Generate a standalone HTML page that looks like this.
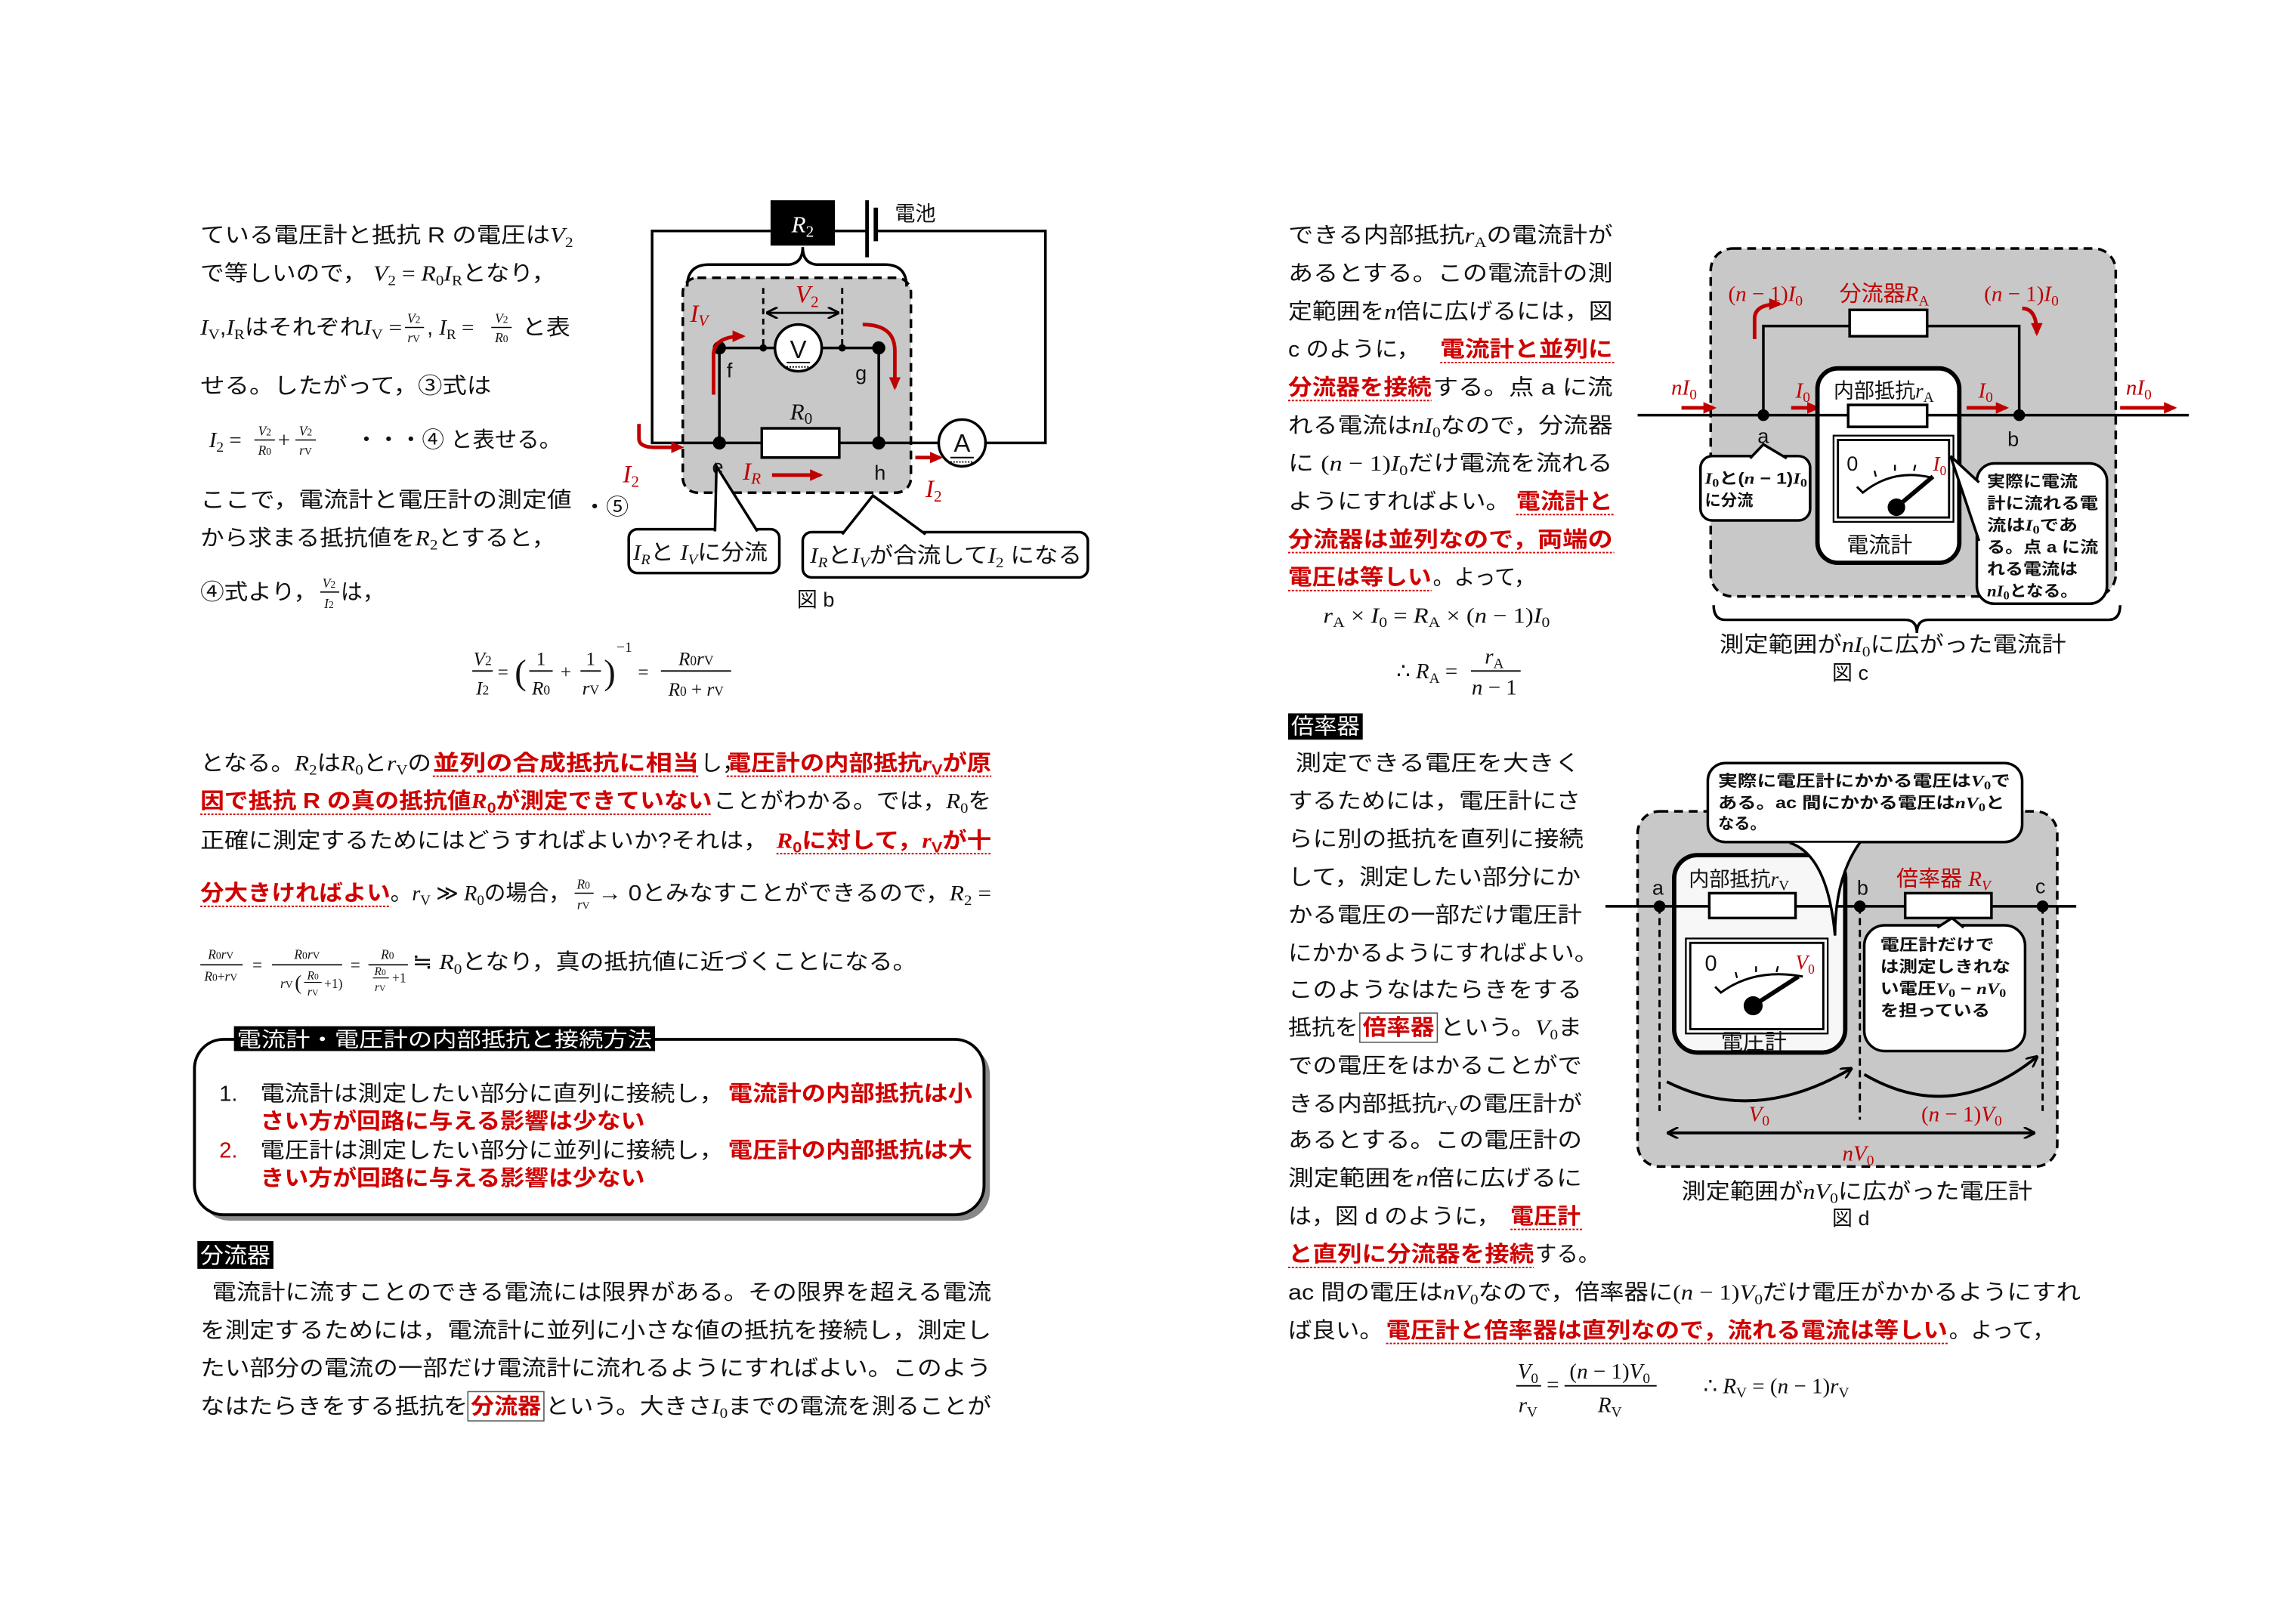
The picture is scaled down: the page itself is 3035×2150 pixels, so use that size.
<!DOCTYPE html>
<html><head><meta charset="utf-8">
<style>
html,body{margin:0;padding:0;background:#fff;}
svg{display:block;}
.t{font-family:"Liberation Sans","Noto Sans CJK JP",sans-serif;font-size:15px;fill:#111;}
.m{font-family:"Liberation Serif","DejaVu Serif",serif;font-style:italic;}
.n{font-family:"Liberation Serif","DejaVu Serif",serif;font-style:normal;}
.r{fill:#d00000;font-weight:bold;}
.rd{fill:#c00000;}
.b{font-weight:bold;}
.w{fill:#fff;}
.ul{stroke:#d00000;stroke-width:1;stroke-dasharray:1.5 1;}
</style></head>
<body>
<svg width="3035" height="2150" viewBox="0 0 3035 2150" xmlns="http://www.w3.org/2000/svg">
<defs>
<marker id="ar" markerWidth="9" markerHeight="9" refX="7" refY="4.5" orient="auto" markerUnits="userSpaceOnUse"><path d="M0,0.5 L9,4.5 L0,8.5 Z" fill="#c00000"/></marker>
<marker id="ak" markerWidth="8" markerHeight="8" refX="7" refY="4" orient="auto" markerUnits="userSpaceOnUse"><path d="M0,0 L8,4 L0,8" fill="none" stroke="#000" stroke-width="1.5"/></marker>
<marker id="aks" markerWidth="8" markerHeight="8" refX="1" refY="4" orient="auto" markerUnits="userSpaceOnUse"><path d="M8,0 L0,4 L8,8" fill="none" stroke="#000" stroke-width="1.5"/></marker>
</defs>
<rect width="3035" height="2150" fill="#fff"/>
<g transform="scale(1.9353)" class="t">

<!-- ===== LEFT COLUMN TOP TEXT ===== -->
<text x="137" y="166" textLength="255" lengthAdjust="spacingAndGlyphs">ている電圧計と抵抗 R の電圧は<tspan class="m">V</tspan><tspan font-size="10" dy="3" class="n">2</tspan></text>
<text x="137" y="192" textLength="243" lengthAdjust="spacingAndGlyphs">で等しいので， <tspan class="m">V</tspan><tspan font-size="10" dy="3" class="n">2</tspan><tspan dy="-3" class="n"> = </tspan><tspan class="m">R</tspan><tspan font-size="10" dy="3" class="n">0</tspan><tspan dy="-3" class="m">I</tspan><tspan font-size="10" dy="3" class="n">R</tspan><tspan dy="-3">となり，</tspan></text>
<text x="137" y="229" textLength="138" lengthAdjust="spacingAndGlyphs"><tspan class="m">I</tspan><tspan font-size="10" dy="3" class="n">V</tspan><tspan dy="-3">,</tspan><tspan class="m">I</tspan><tspan font-size="10" dy="3" class="n">R</tspan><tspan dy="-3">はそれぞれ</tspan><tspan class="m">I</tspan><tspan font-size="10" dy="3" class="n">V</tspan><tspan dy="-3" class="n"> =</tspan></text>
<g font-size="9" text-anchor="middle" class="m"><text x="283" y="221">V<tspan font-size="7" class="n">2</tspan></text><line x1="277" y1="224" x2="290" y2="224" stroke="#000" stroke-width="0.8"/><text x="283" y="234">r<tspan font-size="7" class="n">V</tspan></text></g>
<text x="292" y="229">, <tspan class="m">I</tspan><tspan font-size="10" dy="3" class="n">R</tspan><tspan dy="-3" class="n"> =</tspan></text>
<g font-size="9" text-anchor="middle" class="m"><text x="343" y="221">V<tspan font-size="7" class="n">2</tspan></text><line x1="336" y1="224" x2="350" y2="224" stroke="#000" stroke-width="0.8"/><text x="343" y="234">R<tspan font-size="7" class="n">0</tspan></text></g>
<text x="357" y="229" textLength="33" lengthAdjust="spacingAndGlyphs">と表</text>
<text x="137" y="269" textLength="199" lengthAdjust="spacingAndGlyphs">せる。したがって，③式は</text>
<text x="143" y="306"><tspan class="m">I</tspan><tspan font-size="10" dy="3" class="n">2</tspan><tspan dy="-3" class="n"> =</tspan></text>
<g font-size="9" text-anchor="middle" class="m"><text x="181" y="298">V<tspan font-size="7" class="n">2</tspan></text><line x1="174" y1="301" x2="188" y2="301" stroke="#000" stroke-width="0.8"/><text x="181" y="311">R<tspan font-size="7" class="n">0</tspan></text></g>
<text x="190" y="306" class="n">+</text>
<g font-size="9" text-anchor="middle" class="m"><text x="209" y="298">V<tspan font-size="7" class="n">2</tspan></text><line x1="202" y1="301" x2="216" y2="301" stroke="#000" stroke-width="0.8"/><text x="209" y="311">r<tspan font-size="7" class="n">V</tspan></text></g>
<text x="243" y="306" textLength="141" lengthAdjust="spacingAndGlyphs">・・・④ と表せる。</text>
<text x="137" y="347" textLength="254" lengthAdjust="spacingAndGlyphs">ここで，電流計と電圧計の測定値</text>
<text x="399" y="352" textLength="31" lengthAdjust="spacingAndGlyphs">・⑤</text>
<text x="137" y="373" textLength="243" lengthAdjust="spacingAndGlyphs">から求まる抵抗値を<tspan class="m">R</tspan><tspan font-size="10" dy="3" class="n">2</tspan><tspan dy="-3">とすると，</tspan></text>
<text x="137" y="410" textLength="80" lengthAdjust="spacingAndGlyphs">④式より，</text>
<g font-size="9" text-anchor="middle" class="m"><text x="225" y="402">V<tspan font-size="7" class="n">2</tspan></text><line x1="219" y1="405" x2="232" y2="405" stroke="#000" stroke-width="0.8"/><text x="225" y="416">I<tspan font-size="7" class="n">2</tspan></text></g>
<text x="233" y="410">は，</text>

<!-- big equation -->
<g class="m" font-size="13" text-anchor="middle">
<text x="330" y="455">V<tspan font-size="9" class="n">2</tspan></text><line x1="323" y1="459" x2="337" y2="459" stroke="#000"/><text x="330" y="475">I<tspan font-size="9" class="n">2</tspan></text>
<text x="344" y="464" class="n">=</text>
<text x="356" y="468" class="n" font-size="24" font-weight="lighter">(</text>
<text x="370" y="455" class="n">1</text><line x1="362" y1="459" x2="378" y2="459" stroke="#000"/><text x="370" y="475">R<tspan font-size="9" class="n">0</tspan></text>
<text x="387" y="464" class="n">+</text>
<text x="404" y="455" class="n">1</text><line x1="397" y1="459" x2="411" y2="459" stroke="#000"/><text x="404" y="475">r<tspan font-size="9" class="n">V</tspan></text>
<text x="417" y="468" class="n" font-size="24">)</text>
<text x="427" y="446" class="n" font-size="10">−1</text>
<text x="440" y="464" class="n">=</text>
<text x="476" y="455">R<tspan font-size="9" class="n">0</tspan>r<tspan font-size="9" class="n">V</tspan></text><line x1="452" y1="459" x2="500" y2="459" stroke="#000"/><text x="476" y="476">R<tspan font-size="9" class="n">0</tspan><tspan class="n"> + </tspan>r<tspan font-size="9" class="n">V</tspan></text>
</g>

<!-- paragraph 2 -->
<text x="137" y="527" textLength="158" lengthAdjust="spacingAndGlyphs">となる。<tspan class="m">R</tspan><tspan font-size="10" dy="3" class="n">2</tspan><tspan dy="-3">は</tspan><tspan class="m">R</tspan><tspan font-size="10" dy="3" class="n">0</tspan><tspan dy="-3">と</tspan><tspan class="m">r</tspan><tspan font-size="10" dy="3" class="n">V</tspan><tspan dy="-3">の</tspan></text>
<text x="296" y="527" class="r" textLength="182" lengthAdjust="spacingAndGlyphs">並列の合成抵抗に相当</text>
<line x1="296" y1="531" x2="478" y2="531" class="ul"/>
<text x="479" y="527">し，</text>
<text x="497" y="527" class="r" textLength="181" lengthAdjust="spacingAndGlyphs">電圧計の内部抵抗<tspan class="m">r</tspan><tspan font-size="10" dy="3">V</tspan><tspan dy="-3">が原</tspan></text>
<line x1="497" y1="531" x2="678" y2="531" class="ul"/>
<text x="137" y="553" class="r" textLength="350" lengthAdjust="spacingAndGlyphs">因で抵抗 R の真の抵抗値<tspan class="m">R</tspan><tspan font-size="10" dy="3">0</tspan><tspan dy="-3">が測定できていない</tspan></text>
<line x1="137" y1="557" x2="487" y2="557" class="ul"/>
<text x="488" y="553" textLength="190" lengthAdjust="spacingAndGlyphs">ことがわかる。では，<tspan class="m">R</tspan><tspan font-size="10" dy="3" class="n">0</tspan><tspan dy="-3">を</tspan></text>
<text x="137" y="580" textLength="388" lengthAdjust="spacingAndGlyphs">正確に測定するためにはどうすればよいか?それは，</text>
<text x="531" y="580" class="r" textLength="147" lengthAdjust="spacingAndGlyphs"><tspan class="m">R</tspan><tspan font-size="10" dy="3">0</tspan><tspan dy="-3">に対して，</tspan><tspan class="m">r</tspan><tspan font-size="10" dy="3">V</tspan><tspan dy="-3">が十</tspan></text>
<line x1="531" y1="584" x2="678" y2="584" class="ul"/>
<text x="137" y="616" class="r" textLength="130" lengthAdjust="spacingAndGlyphs">分大きければよい</text>
<line x1="137" y1="620" x2="267" y2="620" class="ul"/>
<text x="267" y="616" textLength="123" lengthAdjust="spacingAndGlyphs">。<tspan class="m">r</tspan><tspan font-size="10" dy="3" class="n">V</tspan><tspan dy="-3" class="n"> ≫ </tspan><tspan class="m">R</tspan><tspan font-size="10" dy="3" class="n">0</tspan><tspan dy="-3">の場合，</tspan></text>
<g font-size="9" text-anchor="middle" class="m"><text x="399" y="608">R<tspan font-size="7" class="n">0</tspan></text><line x1="393" y1="611" x2="406" y2="611" stroke="#000" stroke-width="0.8"/><text x="399" y="622">r<tspan font-size="7" class="n">V</tspan></text></g>
<text x="409" y="616" textLength="269" lengthAdjust="spacingAndGlyphs">→ 0とみなすことができるので，<tspan class="m">R</tspan><tspan font-size="10" dy="3" class="n">2</tspan><tspan dy="-3" class="n"> =</tspan></text>
<!-- P5 fractions -->
<g font-size="9" text-anchor="middle" class="m">
<text x="151" y="656">R<tspan font-size="7" class="n">0</tspan>r<tspan font-size="7" class="n">V</tspan></text><line x1="137" y1="660" x2="166" y2="660" stroke="#000" stroke-width="0.8"/><text x="151" y="671">R<tspan font-size="7" class="n">0</tspan><tspan class="n">+</tspan>r<tspan font-size="7" class="n">V</tspan></text>
<text x="176" y="664" class="n" font-size="12">=</text>
<text x="210" y="656">R<tspan font-size="7" class="n">0</tspan>r<tspan font-size="7" class="n">V</tspan></text><line x1="186" y1="660" x2="234" y2="660" stroke="#000" stroke-width="0.8"/>
<text x="196" y="676">r<tspan font-size="7" class="n">V</tspan></text><text x="204" y="677" class="n" font-size="14">(</text>
<text x="214" y="670" font-size="8">R<tspan font-size="6" class="n">0</tspan></text><line x1="208" y1="672" x2="220" y2="672" stroke="#000" stroke-width="0.6"/><text x="214" y="681" font-size="8">r<tspan font-size="6" class="n">V</tspan></text><text x="228" y="676" class="n">+1)</text>
<text x="243" y="664" class="n" font-size="12">=</text>
<text x="265" y="656">R<tspan font-size="7" class="n">0</tspan></text><line x1="252" y1="660" x2="279" y2="660" stroke="#000" stroke-width="0.8"/>
<text x="260" y="667" font-size="8">R<tspan font-size="6" class="n">0</tspan></text><line x1="255" y1="669" x2="266" y2="669" stroke="#000" stroke-width="0.6"/><text x="260" y="678" font-size="8">r<tspan font-size="6" class="n">V</tspan></text><text x="273" y="672" class="n">+1</text>
</g>
<text x="282" y="663" textLength="345" lengthAdjust="spacingAndGlyphs">≒ <tspan class="m">R</tspan><tspan font-size="10" dy="3" class="n">0</tspan><tspan dy="-3">となり，真の抵抗値に近づくことになる。</tspan></text>

<!-- Summary box -->
<rect x="137" y="715" width="540" height="120" rx="20" fill="#888"/>
<rect x="133" y="711" width="540" height="120" rx="20" fill="#fff" stroke="#000" stroke-width="2"/>
<rect x="160" y="702" width="288" height="17" fill="#000"/>
<text x="162" y="716" class="w" font-size="14" textLength="284" lengthAdjust="spacingAndGlyphs">電流計・電圧計の内部抵抗と接続方法</text>
<text x="150" y="753">1.</text>
<text x="178" y="753" textLength="317" lengthAdjust="spacingAndGlyphs">電流計は測定したい部分に直列に接続し，</text>
<text x="498" y="753" class="r" textLength="167" lengthAdjust="spacingAndGlyphs">電流計の内部抵抗は小</text>
<text x="178" y="772" class="r" textLength="263" lengthAdjust="spacingAndGlyphs">さい方が回路に与える影響は少ない</text>
<text x="150" y="792" class="rd">2.</text>
<text x="178" y="792" textLength="317" lengthAdjust="spacingAndGlyphs">電圧計は測定したい部分に並列に接続し，</text>
<text x="498" y="792" class="r" textLength="167" lengthAdjust="spacingAndGlyphs">電圧計の内部抵抗は大</text>
<text x="178" y="811" class="r" textLength="263" lengthAdjust="spacingAndGlyphs">きい方が回路に与える影響は少ない</text>

<!-- 分流器 -->
<rect x="135" y="849" width="52" height="19" fill="#000"/>
<text x="137" y="864" class="w" textLength="48" lengthAdjust="spacingAndGlyphs">分流器</text>
<text x="145" y="889" textLength="533" lengthAdjust="spacingAndGlyphs">電流計に流すことのできる電流には限界がある。その限界を超える電流</text>
<text x="137" y="915" textLength="541" lengthAdjust="spacingAndGlyphs">を測定するためには，電流計に並列に小さな値の抵抗を接続し，測定し</text>
<text x="137" y="941" textLength="541" lengthAdjust="spacingAndGlyphs">たい部分の電流の一部だけ電流計に流れるようにすればよい。このよう</text>
<text x="137" y="967" textLength="183" lengthAdjust="spacingAndGlyphs">なはたらきをする抵抗を</text>
<rect x="320" y="952" width="52" height="20" fill="none" stroke="#555" stroke-width="0.8"/>
<text x="322" y="967" class="r" textLength="48" lengthAdjust="spacingAndGlyphs">分流器</text>
<text x="373" y="967" textLength="305" lengthAdjust="spacingAndGlyphs">という。大きさ<tspan class="m">I</tspan><tspan font-size="10" dy="3" class="n">0</tspan><tspan dy="-3">までの電流を測ることが</tspan></text>

<!-- ===== FIGURE b ===== -->
<rect x="467" y="190" width="156" height="147" rx="10" fill="#c8c8c8" stroke="#000" stroke-width="1.8" stroke-dasharray="6 4"/>
<g stroke="#000" stroke-width="1.8" fill="none">
<polyline points="527,158 446,158 446,303 521,303"/>
<line x1="571" y1="158" x2="593" y2="158"/>
<polyline points="599,158 715,158 715,303 674,303"/>
<line x1="574" y1="303" x2="642" y2="303"/>
<line x1="492" y1="238" x2="492" y2="303"/>
<line x1="601" y1="238" x2="601" y2="303"/>
<line x1="492" y1="238" x2="530" y2="238"/>
<line x1="562" y1="238" x2="601" y2="238"/>
<line x1="593" y1="137" x2="593" y2="176" stroke-width="2.5"/>
<line x1="599" y1="142" x2="599" y2="165" stroke-width="3"/>
<line x1="522" y1="197" x2="522" y2="238" stroke-dasharray="4 3" stroke-width="1.5"/>
<line x1="576" y1="197" x2="576" y2="238" stroke-dasharray="4 3" stroke-width="1.5"/>
<line x1="525" y1="214" x2="573" y2="214" stroke-width="1.5" marker-end="url(#ak)" marker-start="url(#aks)"/>
<path d="M470,196 Q470,181 485,181 L538,181 Q549,181 549,169 Q549,181 560,181 L605,181 Q620,181 620,196" stroke-width="1.8"/>
</g>
<rect x="527" y="137" width="44" height="31" fill="#000"/>
<text x="549" y="159" class="m w" font-size="16" text-anchor="middle">R<tspan font-size="11" class="n" dy="3">2</tspan></text>
<text x="612" y="151" font-size="14">電池</text>
<rect x="521" y="293" width="53" height="20" fill="#fff" stroke="#000" stroke-width="1.8"/>
<text x="548" y="287" class="m" font-size="16" text-anchor="middle">R<tspan font-size="11" class="n" dy="3">0</tspan></text>
<circle cx="546" cy="238" r="16" fill="#fff" stroke="#000" stroke-width="1.8"/>
<text x="546" y="245" font-size="17" text-anchor="middle">V</text>
<line x1="538" y1="248" x2="554" y2="248" stroke="#000" stroke-width="1"/><line x1="538" y1="251" x2="554" y2="251" stroke="#000" stroke-width="1" stroke-dasharray="1 1"/>
<circle cx="658" cy="303" r="16" fill="#fff" stroke="#000" stroke-width="1.8"/>
<text x="658" y="309" font-size="17" text-anchor="middle">A</text>
<line x1="650" y1="313" x2="666" y2="313" stroke="#000" stroke-width="1"/><line x1="650" y1="316" x2="666" y2="316" stroke="#000" stroke-width="1" stroke-dasharray="1 1"/>
<g fill="#000"><circle cx="492" cy="303" r="4.5"/><circle cx="601" cy="303" r="4.5"/><circle cx="492" cy="238" r="4.5"/><circle cx="601" cy="238" r="4.5"/><circle cx="522" cy="238" r="2.5"/><circle cx="576" cy="238" r="2.5"/></g>
<text x="497" y="258" font-size="14">f</text>
<text x="585" y="260" font-size="14">g</text>
<text x="487" y="324" font-size="14">e</text>
<text x="598" y="328" font-size="14">h</text>
<text x="552" y="207" class="m rd" font-size="17" text-anchor="middle">V<tspan font-size="11" class="n" dy="3">2</tspan></text>
<text x="472" y="220" class="m rd" font-size="17">I<tspan font-size="11" dy="3">V</tspan></text>
<text x="426" y="330" class="m rd" font-size="17">I<tspan font-size="11" class="n" dy="3">2</tspan></text>
<text x="508" y="328" class="m rd" font-size="17">I<tspan font-size="11" dy="3">R</tspan></text>
<text x="633" y="340" class="m rd" font-size="17">I<tspan font-size="11" class="n" dy="3">2</tspan></text>
<g stroke="#c00000" stroke-width="2.5" fill="none" marker-end="url(#ar)">
<path d="M488,270 L488,243 Q488,230 508,230"/>
<path d="M590,222 Q612,222 612,240 L612,265"/>
<path d="M437,290 L437,300 Q437,306 448,306 L466,306"/>
<line x1="528" y1="325" x2="561" y2="325"/>
<line x1="626" y1="313" x2="643" y2="313"/>
</g>
<!-- callouts b -->
<rect x="430" y="362" width="103" height="30" rx="6" fill="#fff" stroke="#000" stroke-width="1.8"/>
<polyline points="489,363.5 490,319 518,363.5" fill="#fff" stroke="#000" stroke-width="1.8"/>
<text x="433" y="383" textLength="92" lengthAdjust="spacingAndGlyphs"><tspan class="m">I</tspan><tspan font-size="10" dy="3" class="m">R</tspan><tspan dy="-3">と </tspan><tspan class="m">I</tspan><tspan font-size="10" dy="3" class="m">V</tspan><tspan dy="-3">に分流</tspan></text>
<rect x="549" y="364" width="195" height="31" rx="6" fill="#fff" stroke="#000" stroke-width="1.8"/>
<polyline points="576,365.5 597,339 633,365.5" fill="#fff" stroke="#000" stroke-width="1.8"/>
<text x="554" y="385" textLength="186" lengthAdjust="spacingAndGlyphs"><tspan class="m">I</tspan><tspan font-size="10" dy="3" class="m">R</tspan><tspan dy="-3">と</tspan><tspan class="m">I</tspan><tspan font-size="10" dy="3" class="m">V</tspan><tspan dy="-3">が合流して</tspan><tspan class="m">I</tspan><tspan font-size="10" dy="3" class="n">2</tspan><tspan dy="-3"> になる</tspan></text>
<text x="545" y="415" font-size="14">図 b</text>

<!-- ===== RIGHT COLUMN TEXT ===== -->
<text x="881" y="166" textLength="222" lengthAdjust="spacingAndGlyphs">できる内部抵抗<tspan class="m">r</tspan><tspan font-size="10" dy="3" class="n">A</tspan><tspan dy="-3">の電流計が</tspan></text>
<text x="881" y="192" textLength="222" lengthAdjust="spacingAndGlyphs">あるとする。この電流計の測</text>
<text x="881" y="218" textLength="222" lengthAdjust="spacingAndGlyphs">定範囲を<tspan class="m">n</tspan>倍に広げるには，図</text>
<text x="881" y="244" textLength="90" lengthAdjust="spacingAndGlyphs">c のように，</text>
<text x="985" y="244" class="r" textLength="118" lengthAdjust="spacingAndGlyphs">電流計と並列に</text>
<line x1="985" y1="248" x2="1104" y2="248" class="ul"/>
<text x="881" y="270" class="r" textLength="98" lengthAdjust="spacingAndGlyphs">分流器を接続</text>
<line x1="881" y1="274" x2="979" y2="274" class="ul"/>
<text x="980" y="270" textLength="123" lengthAdjust="spacingAndGlyphs">する。点 a に流</text>
<text x="881" y="296" textLength="222" lengthAdjust="spacingAndGlyphs">れる電流は<tspan class="m">nI</tspan><tspan font-size="10" dy="3" class="n">0</tspan><tspan dy="-3">なので，分流器</tspan></text>
<text x="881" y="322" textLength="222" lengthAdjust="spacingAndGlyphs">に <tspan class="n">(</tspan><tspan class="m">n</tspan><tspan class="n"> − 1)</tspan><tspan class="m">I</tspan><tspan font-size="10" dy="3" class="n">0</tspan><tspan dy="-3">だけ電流を流れる</tspan></text>
<text x="881" y="348" textLength="152" lengthAdjust="spacingAndGlyphs">ようにすればよい。</text>
<text x="1037" y="348" class="r" textLength="66" lengthAdjust="spacingAndGlyphs">電流計と</text>
<line x1="1037" y1="352" x2="1104" y2="352" class="ul"/>
<text x="881" y="374" class="r" textLength="222" lengthAdjust="spacingAndGlyphs">分流器は並列なので，両端の</text>
<line x1="881" y1="378" x2="1104" y2="378" class="ul"/>
<text x="881" y="400" class="r" textLength="98" lengthAdjust="spacingAndGlyphs">電圧は等しい</text>
<line x1="881" y1="404" x2="979" y2="404" class="ul"/>
<text x="980" y="400" textLength="70" lengthAdjust="spacingAndGlyphs">。よって，</text>
<text x="905" y="426" textLength="155" lengthAdjust="spacingAndGlyphs" class="n"><tspan class="m">r</tspan><tspan font-size="10" dy="3">A</tspan><tspan dy="-3"> × </tspan><tspan class="m">I</tspan><tspan font-size="10" dy="3">0</tspan><tspan dy="-3"> = </tspan><tspan class="m">R</tspan><tspan font-size="10" dy="3">A</tspan><tspan dy="-3"> × (</tspan><tspan class="m">n</tspan><tspan> − 1)</tspan><tspan class="m">I</tspan><tspan font-size="10" dy="3">0</tspan></text>
<text x="955" y="464" class="n">∴ <tspan class="m">R</tspan><tspan font-size="10" dy="3">A</tspan><tspan dy="-3"> =</tspan></text>
<text x="1022" y="454" class="m" text-anchor="middle">r<tspan font-size="10" class="n" dy="3">A</tspan></text>
<line x1="1006" y1="459" x2="1040" y2="459" stroke="#000" stroke-width="1"/>
<text x="1022" y="475" class="m" text-anchor="middle">n<tspan class="n"> − 1</tspan></text>

<rect x="881" y="488" width="51" height="18" fill="#000"/>
<text x="883" y="502" class="w" textLength="47" lengthAdjust="spacingAndGlyphs">倍率器</text>
<text x="886" y="527" textLength="195" lengthAdjust="spacingAndGlyphs">測定できる電圧を大きく</text>
<text x="881" y="553" textLength="200" lengthAdjust="spacingAndGlyphs">するためには，電圧計にさ</text>
<text x="881" y="579" textLength="202" lengthAdjust="spacingAndGlyphs">らに別の抵抗を直列に接続</text>
<text x="881" y="605" textLength="200" lengthAdjust="spacingAndGlyphs">して，測定したい部分にか</text>
<text x="881" y="631" textLength="201" lengthAdjust="spacingAndGlyphs">かる電圧の一部だけ電圧計</text>
<text x="881" y="657" textLength="212" lengthAdjust="spacingAndGlyphs">にかかるようにすればよい。</text>
<text x="881" y="682" textLength="201" lengthAdjust="spacingAndGlyphs">このようなはたらきをする</text>
<text x="881" y="708" textLength="48" lengthAdjust="spacingAndGlyphs">抵抗を</text>
<rect x="930" y="693" width="53" height="20" fill="none" stroke="#555" stroke-width="0.8"/>
<text x="932" y="708" class="r" textLength="49" lengthAdjust="spacingAndGlyphs">倍率器</text>
<text x="985" y="708" textLength="97" lengthAdjust="spacingAndGlyphs">という。<tspan class="m">V</tspan><tspan font-size="10" dy="3" class="n">0</tspan><tspan dy="-3">ま</tspan></text>
<text x="881" y="734" textLength="201" lengthAdjust="spacingAndGlyphs">での電圧をはかることがで</text>
<text x="881" y="760" textLength="201" lengthAdjust="spacingAndGlyphs">きる内部抵抗<tspan class="m">r</tspan><tspan font-size="10" dy="3" class="n">V</tspan><tspan dy="-3">の電圧計が</tspan></text>
<text x="881" y="785" textLength="201" lengthAdjust="spacingAndGlyphs">あるとする。この電圧計の</text>
<text x="881" y="811" textLength="201" lengthAdjust="spacingAndGlyphs">測定範囲を<tspan class="m">n</tspan>倍に広げるに</text>
<text x="881" y="837" textLength="145" lengthAdjust="spacingAndGlyphs">は，図 d のように，</text>
<text x="1033" y="837" class="r" textLength="48" lengthAdjust="spacingAndGlyphs">電圧計</text>
<line x1="1033" y1="841" x2="1082" y2="841" class="ul"/>
<text x="881" y="863" class="r" textLength="168" lengthAdjust="spacingAndGlyphs">と直列に分流器を接続</text>
<line x1="881" y1="867" x2="1049" y2="867" class="ul"/>
<text x="1050" y="863" textLength="44" lengthAdjust="spacingAndGlyphs">する。</text>
<text x="881" y="889" textLength="542" lengthAdjust="spacingAndGlyphs">ac 間の電圧は<tspan class="m">nV</tspan><tspan font-size="10" dy="3" class="n">0</tspan><tspan dy="-3">なので，倍率器に</tspan><tspan class="n">(</tspan><tspan class="m">n</tspan><tspan class="n"> − 1)</tspan><tspan class="m">V</tspan><tspan font-size="10" dy="3" class="n">0</tspan><tspan dy="-3">だけ電圧がかかるようにすれ</tspan></text>
<text x="881" y="915" textLength="65" lengthAdjust="spacingAndGlyphs">ば良い。</text>
<text x="948" y="915" class="r" textLength="384" lengthAdjust="spacingAndGlyphs">電圧計と倍率器は直列なので，流れる電流は等しい</text>
<line x1="948" y1="919" x2="1332" y2="919" class="ul"/>
<text x="1333" y="915" textLength="72" lengthAdjust="spacingAndGlyphs">。よって，</text>
<g class="m" text-anchor="middle">
<text x="1045" y="943">V<tspan font-size="10" class="n" dy="3">0</tspan></text><line x1="1037" y1="948" x2="1054" y2="948" stroke="#000"/><text x="1045" y="966">r<tspan font-size="10" class="n" dy="3">V</tspan></text>
<text x="1062" y="952" class="n">=</text>
<text x="1101" y="943"><tspan class="n">(</tspan>n<tspan class="n"> − 1)</tspan>V<tspan font-size="10" class="n" dy="3">0</tspan></text><line x1="1070" y1="948" x2="1133" y2="948" stroke="#000"/><text x="1101" y="966">R<tspan font-size="10" class="n" dy="3">V</tspan></text>
</g>
<text x="1165" y="953" class="n">∴ <tspan class="m">R</tspan><tspan font-size="10" dy="3">V</tspan><tspan dy="-3"> = (</tspan><tspan class="m">n</tspan><tspan> − 1)</tspan><tspan class="m">r</tspan><tspan font-size="10" dy="3">V</tspan></text>

<!-- ===== FIGURE c ===== -->
<rect x="1170" y="170" width="277" height="238" rx="15" fill="#c8c8c8" stroke="#000" stroke-width="1.8" stroke-dasharray="6 4"/>
<g stroke="#000" stroke-width="1.8" fill="none">
<line x1="1120" y1="284" x2="1497" y2="284"/>
<polyline points="1206,284 1206,223 1265,223"/>
<polyline points="1318,223 1381,223 1381,284"/>
<path d="M1172,414 Q1172,424 1180,424 L1303,424 Q1311,424 1311,433 Q1311,424 1319,424 L1442,424 Q1450,424 1450,414"/>
</g>
<rect x="1265" y="212" width="53" height="18" fill="#fff" stroke="#000" stroke-width="1.8"/>
<text x="1182" y="206" class="rd n" font-size="15">(<tspan class="m">n</tspan> − 1)<tspan class="m">I</tspan><tspan font-size="10" dy="3">0</tspan></text>
<text x="1258" y="206" class="rd" font-size="15">分流器<tspan class="m">R</tspan><tspan font-size="10" dy="3" class="n">A</tspan></text>
<text x="1357" y="206" class="rd n" font-size="15">(<tspan class="m">n</tspan> − 1)<tspan class="m">I</tspan><tspan font-size="10" dy="3">0</tspan></text>
<g stroke="#c00000" stroke-width="2.5" fill="none" marker-end="url(#ar)">
<path d="M1200,232 L1200,218 Q1200,208 1217,208"/>
<path d="M1383,211 Q1393,211 1393,228"/>
<line x1="1150" y1="279" x2="1172" y2="279"/>
<line x1="1225" y1="279" x2="1243" y2="279"/>
<line x1="1345" y1="279" x2="1372" y2="279"/>
<line x1="1450" y1="279" x2="1487" y2="279"/>
</g>
<text x="1143" y="270" class="m rd">nI<tspan font-size="10" class="n" dy="3">0</tspan></text>
<text x="1228" y="272" class="m rd">I<tspan font-size="10" class="n" dy="3">0</tspan></text>
<text x="1353" y="272" class="m rd">I<tspan font-size="10" class="n" dy="3">0</tspan></text>
<text x="1454" y="270" class="m rd">nI<tspan font-size="10" class="n" dy="3">0</tspan></text>
<circle cx="1206" cy="284" r="4" fill="#000"/><circle cx="1381" cy="284" r="4" fill="#000"/>
<text x="1202" y="303" font-size="14">a</text>
<text x="1373" y="305" font-size="14">b</text>
<!-- ammeter body -->
<rect x="1243" y="252" width="97" height="133" rx="14" fill="#fff" stroke="#000" stroke-width="3"/>
<line x1="1243" y1="284" x2="1340" y2="284" stroke="#000" stroke-width="1.8"/>
<rect x="1264" y="277" width="54" height="15" fill="#fff" stroke="#000" stroke-width="1.8"/>
<text x="1254" y="272" font-size="14">内部抵抗<tspan class="m">r</tspan><tspan font-size="10" dy="3" class="n">A</tspan></text>
<rect x="1254" y="298" width="82" height="59" fill="#fff" stroke="#000" stroke-width="1.2"/>
<rect x="1257" y="301" width="76" height="53" fill="#fff" stroke="#000" stroke-width="1.5"/>
<text x="1263" y="322" font-size="14">0</text>
<text x="1322" y="322" class="m rd" font-size="14">I<tspan font-size="9" class="n" dy="3">0</tspan></text>
<path d="M1270,333 L1274,337 Q1295,320 1322,327" fill="none" stroke="#000" stroke-width="1.5"/>
<g stroke="#000" stroke-width="1.2"><line x1="1283" y1="326" x2="1282" y2="322"/><line x1="1296" y1="322" x2="1296" y2="318"/><line x1="1309" y1="322" x2="1310" y2="318"/></g>
<line x1="1297" y1="347" x2="1322" y2="326" stroke="#000" stroke-width="3"/>
<circle cx="1297" cy="347" r="6" fill="#000"/>
<text x="1263" y="378" font-size="15">電流計</text>
<!-- callouts c -->
<rect x="1163" y="312" width="75" height="44" rx="8" fill="#fff" stroke="#000" stroke-width="1.8"/>
<polyline points="1197,313.5 1206,304 1222,313.5" fill="#fff" stroke="#000" stroke-width="1.8"/>
<text x="1166" y="331" font-size="11" class="b" textLength="70" lengthAdjust="spacingAndGlyphs"><tspan class="m">I</tspan><tspan font-size="8" dy="2" class="n">0</tspan><tspan dy="-2">と(</tspan><tspan class="m">n</tspan><tspan> − 1)</tspan><tspan class="m">I</tspan><tspan font-size="8" dy="2" class="n">0</tspan></text>
<text x="1166" y="346" font-size="11" class="b">に分流</text>
<rect x="1352" y="317" width="89" height="96" rx="12" fill="#fff" stroke="#000" stroke-width="1.8"/>
<polyline points="1353.5,330 1334,312 1353.5,370" fill="#fff" stroke="#000" stroke-width="1.8"/>
<g font-size="11" class="b">
<text x="1359" y="333" textLength="62" lengthAdjust="spacingAndGlyphs">実際に電流</text>
<text x="1359" y="348" textLength="76" lengthAdjust="spacingAndGlyphs">計に流れる電</text>
<text x="1359" y="363" textLength="62" lengthAdjust="spacingAndGlyphs">流は<tspan class="m">I</tspan><tspan font-size="8" dy="2" class="n">0</tspan><tspan dy="-2">であ</tspan></text>
<text x="1359" y="378" textLength="76" lengthAdjust="spacingAndGlyphs">る。点 a に流</text>
<text x="1359" y="393" textLength="62" lengthAdjust="spacingAndGlyphs">れる電流は</text>
<text x="1359" y="408" textLength="62" lengthAdjust="spacingAndGlyphs"><tspan class="m">nI</tspan><tspan font-size="8" dy="2" class="n">0</tspan><tspan dy="-2">となる。</tspan></text>
</g>
<text x="1176" y="446" textLength="237" lengthAdjust="spacingAndGlyphs">測定範囲が<tspan class="m">nI</tspan><tspan font-size="10" dy="3" class="n">0</tspan><tspan dy="-3">に広がった電流計</tspan></text>
<text x="1253" y="465" font-size="14">図 c</text>

<!-- ===== FIGURE d ===== -->
<rect x="1120" y="555" width="287" height="243" rx="15" fill="#c8c8c8" stroke="#000" stroke-width="1.8" stroke-dasharray="6 4"/>
<g stroke="#000" stroke-width="1.5" fill="none" stroke-dasharray="5 3">
<line x1="1135" y1="620" x2="1135" y2="760"/><line x1="1272" y1="620" x2="1272" y2="766"/><line x1="1397" y1="620" x2="1397" y2="760"/>
</g>
<line x1="1098" y1="620" x2="1420" y2="620" stroke="#000" stroke-width="1.8"/>
<rect x="1145" y="585" width="117" height="135" rx="16" fill="#f7f7f7" stroke="#000" stroke-width="3"/>
<line x1="1145" y1="620" x2="1262" y2="620" stroke="#000" stroke-width="1.8"/>
<rect x="1169" y="611" width="59" height="17" fill="#fff" stroke="#000" stroke-width="1.8"/>
<text x="1155" y="606" font-size="14">内部抵抗<tspan class="m">r</tspan><tspan font-size="10" dy="3" class="n">V</tspan></text>
<rect x="1153" y="642" width="97" height="65" fill="#fff" stroke="#000" stroke-width="1.2"/>
<rect x="1156" y="645" width="91" height="59" fill="#fff" stroke="#000" stroke-width="1.5"/>
<text x="1166" y="664" font-size="15">0</text>
<text x="1228" y="663" class="m rd" font-size="14">V<tspan font-size="9" class="n" dy="3">0</tspan></text>
<path d="M1173,675 L1177,679 Q1200,662 1233,668" fill="none" stroke="#000" stroke-width="1.5"/>
<g stroke="#000" stroke-width="1.2"><line x1="1188" y1="669" x2="1187" y2="665"/><line x1="1201" y1="665" x2="1201" y2="661"/><line x1="1215" y1="665" x2="1216" y2="661"/></g>
<line x1="1199" y1="688" x2="1230" y2="668" stroke="#000" stroke-width="3"/>
<circle cx="1199" cy="688" r="6.5" fill="#000"/>
<text x="1177" y="718" font-size="15">電圧計</text>
<rect x="1303" y="611" width="59" height="17" fill="#fff" stroke="#000" stroke-width="1.8"/>
<g fill="#000"><circle cx="1135" cy="620" r="4"/><circle cx="1272" cy="620" r="4"/><circle cx="1397" cy="620" r="4"/></g>
<text x="1130" y="612" font-size="14">a</text>
<text x="1270" y="612" font-size="14">b</text>
<text x="1392" y="611" font-size="14">c</text>
<text x="1297" y="606" class="rd" font-size="15">倍率器 <tspan class="m">R</tspan><tspan font-size="10" dy="3" class="m">V</tspan></text>
<!-- top callout d -->
<rect x="1168" y="522" width="215" height="54" rx="12" fill="#fff" stroke="#000" stroke-width="1.8"/>
<path d="M1224,576.5 Q1250,585 1255,640 Q1255,600 1272,576.5" fill="#fff" stroke="#000" stroke-width="1.8"/>
<g font-size="11" class="b">
<text x="1175" y="538" textLength="200" lengthAdjust="spacingAndGlyphs">実際に電圧計にかかる電圧は<tspan class="m">V</tspan><tspan font-size="8" dy="2" class="n">0</tspan><tspan dy="-2">で</tspan></text>
<text x="1175" y="553" textLength="196" lengthAdjust="spacingAndGlyphs">ある。ac 間にかかる電圧は<tspan class="m">nV</tspan><tspan font-size="8" dy="2" class="n">0</tspan><tspan dy="-2">と</tspan></text>
<text x="1175" y="567">なる。</text>
</g>
<!-- lower callout d -->
<rect x="1275" y="633" width="110" height="86" rx="14" fill="#fff" stroke="#000" stroke-width="1.8"/>
<polyline points="1325,634.5 1335,628 1343,634.5" fill="#fff" stroke="#000" stroke-width="1.8"/>
<g font-size="11" class="b">
<text x="1286" y="650" textLength="78" lengthAdjust="spacingAndGlyphs">電圧計だけで</text>
<text x="1286" y="665" textLength="89" lengthAdjust="spacingAndGlyphs">は測定しきれな</text>
<text x="1286" y="680" textLength="86" lengthAdjust="spacingAndGlyphs">い電圧<tspan class="m">V</tspan><tspan font-size="8" dy="2" class="n">0</tspan><tspan dy="-2"> − </tspan><tspan class="m">nV</tspan><tspan font-size="8" dy="2" class="n">0</tspan></text>
<text x="1286" y="695" textLength="75" lengthAdjust="spacingAndGlyphs">を担っている</text>
</g>
<g stroke="#000" stroke-width="2" fill="none" marker-end="url(#ak)">
<path d="M1140,740 Q1200,770 1266,731"/>
<path d="M1275,735 Q1335,770 1393,723"/>
<line x1="1141" y1="775" x2="1391" y2="775" marker-start="url(#aks)"/>
</g>
<text x="1196" y="767" class="m rd" font-size="15">V<tspan font-size="10" class="n" dy="3">0</tspan></text>
<text x="1314" y="767" class="n rd" font-size="15">(<tspan class="m">n</tspan> − 1)<tspan class="m">V</tspan><tspan font-size="10" dy="3">0</tspan></text>
<text x="1260" y="794" class="m rd" font-size="15">nV<tspan font-size="10" class="n" dy="3">0</tspan></text>
<text x="1150" y="820" textLength="240" lengthAdjust="spacingAndGlyphs">測定範囲が<tspan class="m">nV</tspan><tspan font-size="10" dy="3" class="n">0</tspan><tspan dy="-3">に広がった電圧計</tspan></text>
<text x="1253" y="838" font-size="14">図 d</text>

</g>
</svg>
</body></html>
